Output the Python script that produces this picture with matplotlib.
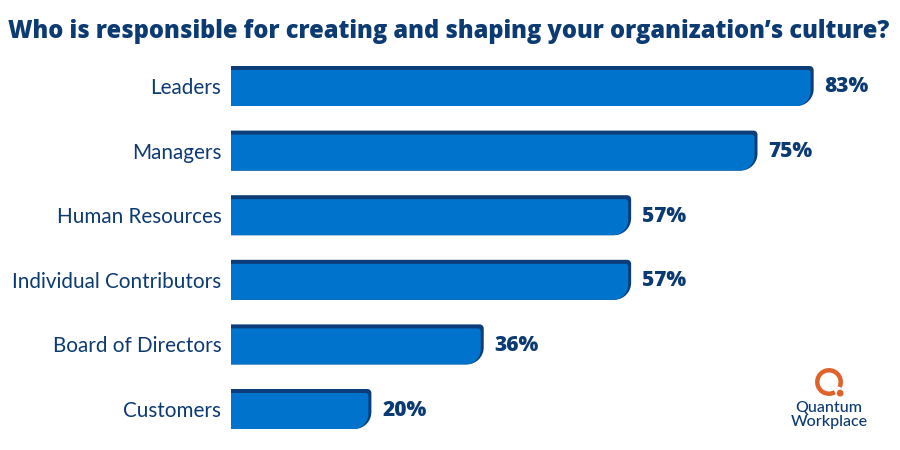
import numpy as np
import matplotlib
matplotlib.use("Agg")
import matplotlib.pyplot as plt
from matplotlib.path import Path
from matplotlib.patches import PathPatch, Arc, Circle

# data
categories = ["Leaders", "Managers", "Human Resources",
              "Individual Contributors", "Board of Directors", "Customers"]
values = [83, 75, 57, 57, 36, 20]
title = "Who is responsible for creating and shaping your organization’s culture?"

NAVY = "#0c3a72"
BLUE = "#0074cc"
DARK = "#0d3d78"
ORANGE = "#e0622a"

plt.rcParams['font.family'] = ['Lato', 'DejaVu Sans']

fig = plt.figure(figsize=(9, 4.5), dpi=100)
ax_left, ax_w = 231 / 900, 669 / 900
ax_bot, ax_h = 8.7 / 450, 387.6 / 450
ax = fig.add_axes([ax_left, ax_bot, ax_w, ax_h])
XMAX = 95.3
ax.set_xlim(0, XMAX)
ax.set_ylim(len(categories) - 0.5, -0.5)

# data units per pixel
ux = XMAX / (ax_w * 900)
uy = len(categories) / (ax_h * 450)


def rounded_path(x0, x1, y0, y1, r_tr, r_br):
    # y0 is bottom (larger y since axis inverted), y1 top
    pts = [(x0, y0), (x0, y1)]
    t = np.linspace(np.pi / 2, 0, 8)
    cx, cy = x1 - r_tr * ux, y1 + r_tr * uy
    pts += [(cx + r_tr * ux * np.cos(a), cy - r_tr * uy * np.sin(a)) for a in t]
    t = np.linspace(0, -np.pi / 2, 14)
    cx, cy = x1 - r_br * ux, y0 - r_br * uy
    pts += [(cx + r_br * ux * np.cos(a), cy - r_br * uy * np.sin(a)) for a in t]
    pts.append((x0, y0))
    codes = [Path.MOVETO] + [Path.LINETO] * (len(pts) - 2) + [Path.CLOSEPOLY]
    return Path(pts, codes)


bar_h = 40 * uy
for i, v in enumerate(values):
    top, bot = i - bar_h / 2, i + bar_h / 2
    dark = rounded_path(0, v, bot, top, 4, 17)
    ax.add_patch(PathPatch(dark, facecolor=DARK, edgecolor="none"))
    blue = rounded_path(0, v - 3 * ux, bot, top + 4 * uy, 3, 15)
    ax.add_patch(PathPatch(blue, facecolor=BLUE, edgecolor="none"))
    ax.text(v + 11 * ux, i + 1 * uy, f"{v}%", va="center", ha="left",
            fontsize=15, fontweight=800, color=NAVY, family="Open Sans")

ax.set_yticks(range(len(categories)))
ax.set_yticklabels(categories, fontsize=14.9, color=NAVY)
ax.tick_params(axis="y", length=0, pad=7)
ax.set_xticks([])
for s in ax.spines.values():
    s.set_visible(False)

fig.text(8 / 900, 1 - 31 / 450, title, fontsize=17, fontweight=800,
         color=NAVY, va="center", ha="left", family="Open Sans")

# Quantum Workplace logo
lx, ly = 829 / 900, 1 - 382 / 450
logo = fig.add_axes([lx - 0.02, ly - 0.04, 0.04, 0.08])
logo.set_xlim(-1, 1)
logo.set_ylim(-1, 1)
logo.set_aspect("equal")
logo.axis("off")
logo.add_patch(Arc((0, 0), 1.3, 1.3, theta1=-25, theta2=300,
                   lw=3.2, color=ORANGE))
logo.add_patch(Circle((0.62, -0.62), 0.15, color=ORANGE))
fig.text(lx, 1 - 408 / 450, "Quantum", fontsize=11.5, color=NAVY,
         ha="center", va="center", fontweight="medium")
fig.text(lx, 1 - 422 / 450, "Workplace", fontsize=11.5, color=NAVY,
         ha="center", va="center", fontweight="medium")

fig.savefig("out.png", dpi=100)
